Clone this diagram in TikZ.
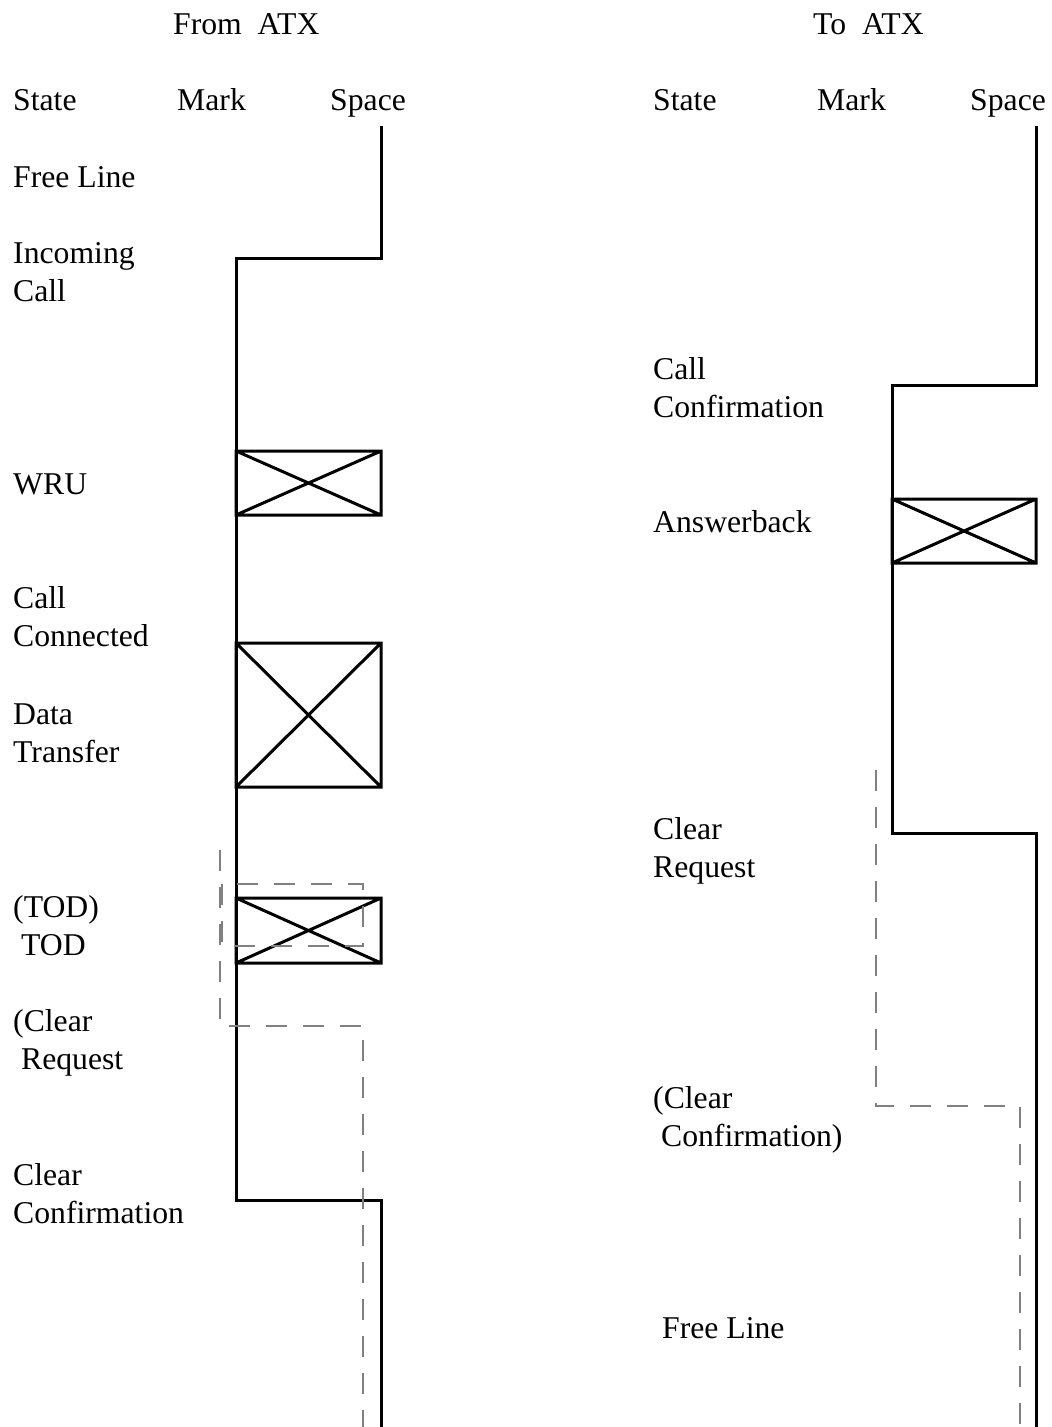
\documentclass[tikz,border=0pt]{standalone}
\usepackage{fontspec}
\setmainfont{Liberation Serif}

\begin{document}
\begin{tikzpicture}[x=1pt, y=-1pt,
  lbl/.style={anchor=base west, inner sep=0pt, align=left,
    font=\fontsize{31.7}{38.5}\selectfont},
  sig/.style={line width=3pt, line join=miter},
  mirror/.style={draw=gray, line width=2pt, dash pattern=on 21pt off 16pt}]
  \useasboundingbox (0,0) rectangle (1052,1427);

  % headings
  \node[lbl] (fromatx) at (173,34) {From\ \ ATX};
  \node[lbl] (toatx) at (813,34) {To\ \ ATX};
  \node[lbl] (lstate) at (13,110) {State};
  \node[lbl] (lmark) at (177,110) {Mark};
  \node[lbl] (lspace) at (330,110) {Space};
  \node[lbl] (rstate) at (653,110) {State};
  \node[lbl] (rmark) at (817,110) {Mark};
  \node[lbl] (rspace) at (970,110) {Space};

  % states, from ATX (base = last line)
  \node[lbl] (lfree) at (13,187) {Free Line};
  \node[lbl] (incoming) at (13,301.5) {Incoming\\Call};
  \node[lbl] (wru) at (13,494) {WRU};
  \node[lbl] (connected) at (13,646.5) {Call\\Connected};
  \node[lbl] (data) at (13,762.5) {Data\\Transfer};
  \node[lbl] (tod) at (13,955.5) {(TOD)\\\hspace*{0.25em}TOD};
  \node[lbl] (lclearreq) at (13,1069.5) {(Clear\\\hspace*{0.25em}Request};
  \node[lbl] (lclearconf) at (13,1223.5) {Clear\\Confirmation};

  % states, to ATX
  \node[lbl] (callconf) at (653,417.5) {Call\\Confirmation};
  \node[lbl] (answer) at (653,532) {Answerback};
  \node[lbl] (rclearreq) at (653,877.5) {Clear\\Request};
  \node[lbl] (rclearconf) at (653,1146.5) {(Clear\\\hspace*{0.25em}Confirmation)};
  \node[lbl] (rfree) at (662,1338) {Free Line};

  % from ATX signal
  \draw[sig] (381,126) -- (381,258) -- (236,258) -- (236,1200) -- (381,1200) -- (381,1427);
  \coordinate (wruA) at (236,451);  \coordinate (wruB) at (381,515);
  \coordinate (datA) at (236,643);  \coordinate (datB) at (381,787);
  \coordinate (todA) at (236,898);  \coordinate (todB) at (381,963);
  \foreach \b in {wru,dat,tod}
    \draw[sig] (\b A) rectangle (\b B) (\b A) -- (\b B) (\b A |- \b B) -- (\b B |- \b A);
  \draw[mirror] (220,850) -- (220,1026) -- (363,1026) -- (363,1427);
  \draw[mirror] (222,884) rectangle (363,946);

  % to ATX signal
  \draw[sig] (1036,126) -- (1036,385) -- (892,385) -- (892,833) -- (1036,833) -- (1036,1427);
  \coordinate (ansA) at (892,499);  \coordinate (ansB) at (1036,563);
  \draw[sig] (ansA) rectangle (ansB) (ansA) -- (ansB) (ansA |- ansB) -- (ansB |- ansA);
  \draw[mirror] (876,770) -- (876,1106) -- (1020,1106) -- (1020,1427);
\end{tikzpicture}
\end{document}
